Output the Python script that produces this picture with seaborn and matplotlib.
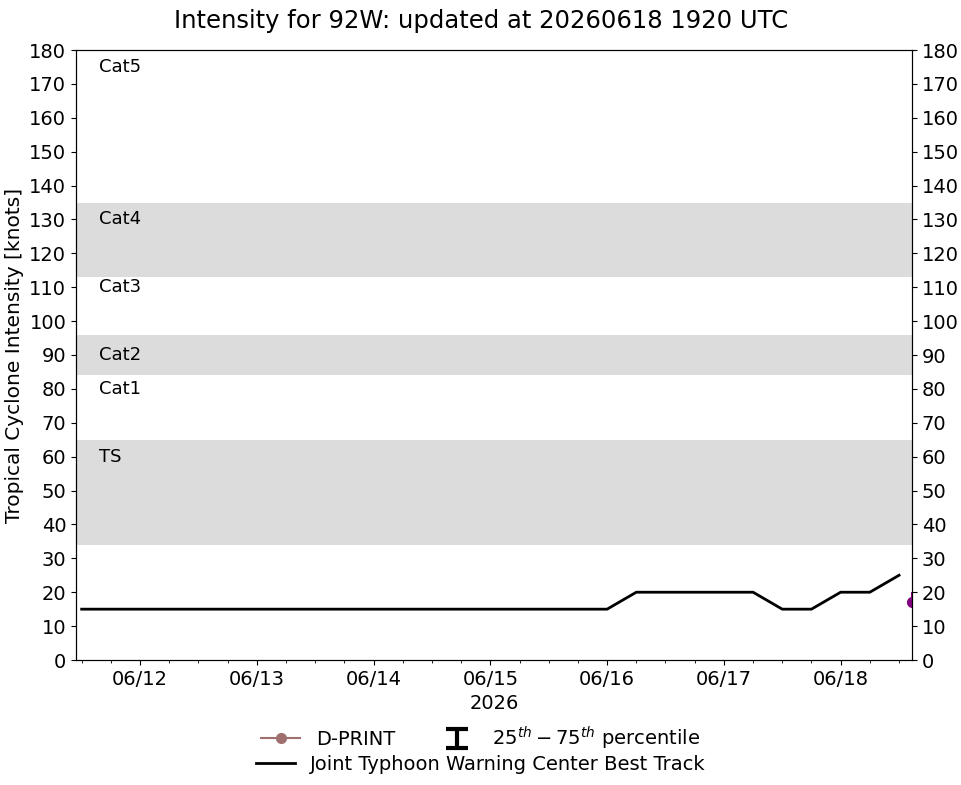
import pandas as pd
import numpy as np
import matplotlib
matplotlib.use("Agg")
import matplotlib.pyplot as plt
import matplotlib.dates as mdates
from matplotlib.lines import Line2D
import seaborn as sns

# --- Data ---
bt_start = "2026-06-11 12:00"
bt_knots = [15, 15, 15, 15, 15, 15, 15, 15, 15, 15, 15, 15, 15, 15, 15, 15, 15, 15, 15,
            20, 20, 20, 20, 20, 15, 15, 20, 20, 25]
dprint_time = "2026-06-18 14:40"
dprint_value = 17
dprint_p25 = 16
dprint_p75 = 20

band_lows = [34, 84, 113]
band_highs = [65, 96, 135]
cat_names = ["TS", "Cat1", "Cat2", "Cat3", "Cat4", "Cat5"]
cat_label_y = [60, 80, 90, 110, 130, 175]

bt = pd.DataFrame({
    "time": pd.date_range(bt_start, periods=len(bt_knots), freq="6h"),
    "vmax": bt_knots,
})

# --- Plot ---
fig = plt.figure(figsize=(9.62, 7.85), dpi=100)
ax = fig.add_axes([76 / 962, 1 - 660 / 785, (912 - 76) / 962, (660 - 50) / 785])

for lo, hi in zip(band_lows, band_highs):
    ax.axhspan(lo, hi, color="#dcdcdc", zorder=0, lw=0)

for name, yv in zip(cat_names, cat_label_y):
    ax.text(0.028, yv, name, transform=ax.get_yaxis_transform(), fontsize=13,
            va="center", ha="left")

sns.lineplot(data=bt, x="time", y="vmax", color="black", lw=2, ax=ax, legend=False)

t_dp = pd.Timestamp(dprint_time)
ax.errorbar([t_dp], [dprint_value],
            yerr=[[dprint_value - dprint_p25], [dprint_p75 - dprint_value]],
            fmt="o", color="purple", ms=7, lw=1.5, zorder=5)

ax.set_xlim(pd.Timestamp("2026-06-11 10:50"), t_dp)
ax.set_ylim(0, 180)
ax.set_yticks(np.arange(0, 181, 10))
ax.xaxis.set_major_locator(mdates.DayLocator())
ax.xaxis.set_minor_locator(mdates.HourLocator(byhour=[6, 12, 18]))
ax.xaxis.set_major_formatter(mdates.DateFormatter("%m/%d"))
ax.tick_params(labelsize=14)
ax.set_xlabel("2026", fontsize=14)
ax.set_ylabel("Tropical Cyclone Intensity [knots]", fontsize=14.5)

ax2 = ax.twinx()
ax2.set_ylim(0, 180)
ax2.set_yticks(np.arange(0, 181, 10))
ax2.tick_params(labelsize=14)

fig.suptitle("Intensity for 92W: updated at 20260618 1920 UTC", fontsize=17.5, y=0.988)

# legend
dp_handle = Line2D([], [], color="#a07070", marker="o", ms=7, lw=1.5)
eb = ax.errorbar([pd.Timestamp("2026-06-11 12:00")], [-500], yerr=[[5], [5]], fmt="none",
                 color="black", lw=3, capsize=8, capthick=3)
fig.legend([dp_handle, eb], ["D-PRINT", r"$25^{th} - 75^{th}$ percentile"],
           loc="center", bbox_to_anchor=(0.5, 1 - 738 / 785), ncol=2,
           frameon=False, fontsize=14, columnspacing=2.2)
bt_handle = Line2D([], [], color="black", lw=2)
fig.legend([bt_handle], ["Joint Typhoon Warning Center Best Track"],
           loc="center", bbox_to_anchor=(0.5, 1 - 764 / 785),
           frameon=False, fontsize=14)

fig.savefig("out.png", dpi=100)
